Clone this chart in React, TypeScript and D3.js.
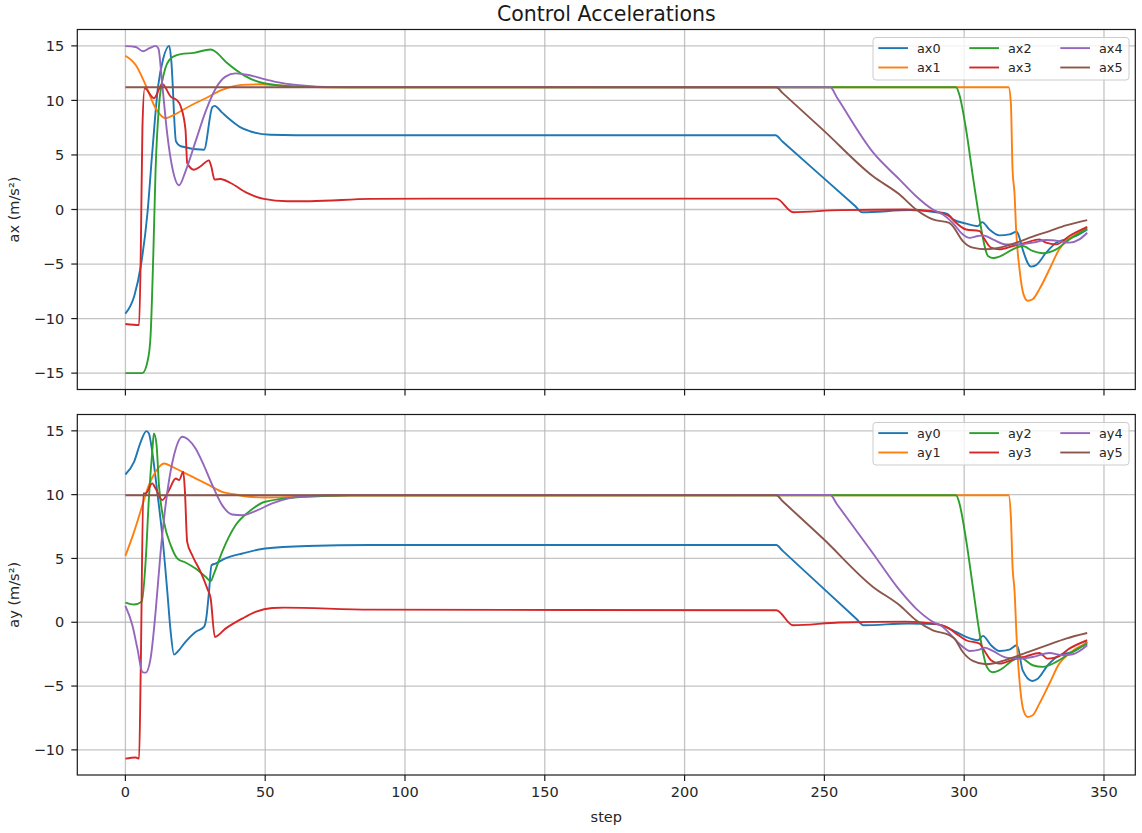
import { useEffect, useRef } from 'react';
import * as d3 from 'd3';

type Pt = [number, number];

// keypoints: [step, value]
const ax0: Pt[] = [[0, -9.55], [3.2, -7.9], [5.5, -5.2], [7.9, -0.3], [9.6, 5.2], [11.7, 11.3], [13.5, 13.8], [15.7, 15.0], [16.4, 13.7], [18.1, 6.24], [19.8, 5.8], [28.1, 5.48], [31.1, 9.38], [31.9, 9.5], [34.5, 8.9], [37.6, 8.2], [41, 7.55], [44.8, 7.15], [51.9, 6.85], [70, 6.8], [232.5, 6.8], [235, 6.23], [261, 0.32], [263.5, -0.25], [280.7, -0.06], [290, -0.25], [294, -0.4], [296, -0.91], [300.7, -1.29], [304.9, -1.52], [306.4, -1.16], [309, -1.83], [312.6, -2.37], [316.2, -2.28], [318.8, -2.04], [319.4, -2.3], [320.9, -3.65], [323.9, -5.24], [325.7, -5.1], [329.3, -3.96], [332.9, -3.05], [336.4, -2.74], [340, -2.43], [344, -1.83]];
const ax1: Pt[] = [[0, 14.1], [3.7, 13.24], [7.25, 11.4], [10.8, 9.28], [14.4, 8.37], [17.4, 8.68], [22.7, 9.44], [28.7, 10.2], [34.6, 10.96], [41.8, 11.42], [48.9, 11.48], [53.7, 11.4], [62, 11.28], [80, 11.2], [315.9, 11.2], [316.7, 9.74], [317.3, 3.65], [318.0, 1.5], [318.6, -2.0], [319.8, -5.48], [321.2, -7.76], [322.7, -8.37], [324.5, -8.22], [326.9, -7.3], [330.5, -5.48], [334, -3.65], [336.4, -2.89], [340, -2.28], [344, -1.67]];
const ax2: Pt[] = [[0, -15], [6.07, -15], [8.1, -13.7], [9.0, -11.6], [10.0, -4.0], [10.8, 3.65], [12.0, 9.44], [13.8, 12.48], [16.2, 13.85], [19.8, 14.24], [24.5, 14.36], [30.5, 14.67], [31.7, 14.55], [36.5, 13.4], [42.4, 12.3], [49.6, 11.57], [61.5, 11.26], [80, 11.2], [297.1, 11.2], [298.3, 10.5], [300.7, 7.3], [303.1, 3.04], [305.5, -0.9], [307.3, -3.35], [308.5, -4.26], [310.5, -4.45], [312.6, -4.32], [317.4, -3.65], [320.9, -3.35], [324.5, -3.8], [328.1, -4.01], [332.9, -3.65], [337.6, -2.74], [344, -1.77]];
const ax3: Pt[] = [[0, -10.5], [4.9, -10.6], [5.5, -4.0], [6.1, 7.6], [6.9, 11.1], [10.2, 10.2], [13.2, 11.5], [16.2, 10.35], [18.3, 10.05], [19.8, 9.44], [21.5, 7.3], [22.1, 4.26], [24.5, 3.65], [26.9, 3.96], [29.9, 4.5], [30.7, 3.96], [31.9, 2.74], [34, 2.8], [37.6, 2.43], [43.5, 1.52], [49.5, 0.97], [57.8, 0.76], [66.1, 0.76], [87.5, 0.97], [110, 1.0], [232.8, 1.0], [238.8, -0.25], [255.4, -0.06], [279.2, 0], [288.8, -0.15], [294.7, -0.61], [296.5, -1.07], [300.7, -1.83], [305.5, -1.98], [307.3, -2.74], [309.6, -3.5], [312.6, -3.65], [317.4, -3.35], [322.1, -3.04], [326.9, -2.74], [329.3, -3.04], [332.9, -3.2], [337.6, -2.43], [344, -1.6]];
const ax4: Pt[] = [[0, 14.98], [3.7, 14.9], [6.3, 14.5], [8.4, 14.76], [10.8, 15.0], [11.8, 14.76], [13.2, 11.4], [15.0, 6.85], [16.8, 3.8], [19.2, 2.22], [21.5, 3.5], [25.1, 6.24], [28.7, 9.0], [32.3, 11.1], [35.8, 12.18], [39.4, 12.48], [44.1, 12.33], [48.9, 12.0], [53.7, 11.7], [62, 11.4], [75, 11.22], [252.1, 11.2], [254.5, 10.26], [267.4, 5.23], [276.9, 2.74], [282.8, 1.22], [288.8, 0], [292.4, -0.46], [295.9, -1.22], [299.5, -2.28], [301.9, -2.6], [304.9, -2.43], [306.7, -2.37], [310.2, -2.74], [315, -3.2], [319.7, -3.2], [324.5, -3.04], [329.3, -2.8], [334, -2.9], [337.6, -3.04], [341.2, -2.74], [344, -2.13]];
const ax5: Pt[] = [[0, 11.2], [232.8, 11.2], [235, 10.69], [249.5, 7.3], [267.4, 3.04], [276.9, 1.37], [282.8, 0], [288.8, -0.91], [294.7, -1.22], [295.9, -1.52], [299.5, -2.89], [303.1, -3.5], [307.8, -3.65], [312.6, -3.5], [318.6, -3.04], [324.5, -2.49], [330.5, -1.98], [336.4, -1.46], [344, -0.97]];

const ay0: Pt[] = [[0, 11.58], [3.1, 12.57], [5.5, 14.14], [7.5, 14.98], [8.4, 14.8], [9.6, 13.36], [11.4, 10.2], [13.2, 6.8], [15.0, 2.38], [16.2, -0.76], [17.4, -2.54], [18.6, -2.33], [21.5, -1.54], [25.1, -0.76], [28.1, -0.37], [28.9, 0.29], [29.9, 2.38], [30.8, 4.47], [32.2, 4.6], [35.8, 5.0], [41.8, 5.39], [50, 5.78], [65, 5.98], [87.6, 6.05], [232.8, 6.05], [235, 5.61], [261.5, 0.26], [264, -0.24], [280, -0.1], [290, -0.15], [294.7, -0.5], [297.1, -0.76], [300.7, -1.15], [304.9, -1.41], [306.7, -1.07], [309.6, -1.8], [312.6, -2.25], [316.2, -2.14], [318.8, -1.8], [319.4, -2.1], [320.9, -3.76], [324.3, -4.6], [326.3, -4.42], [329.9, -3.37], [334, -2.59], [338.8, -2.33], [344, -1.54]];
const ay1: Pt[] = [[0, 5.2], [3.1, 7.08], [6.1, 9.18], [8.4, 10.75], [10.8, 11.79], [13.8, 12.44], [16.8, 12.18], [20.4, 11.79], [25.1, 11.27], [29.9, 10.75], [34.6, 10.22], [39.4, 10.01], [44.1, 9.83], [50, 9.78], [60, 9.82], [80, 9.93], [315.9, 9.95], [316.7, 8.26], [317.3, 4.34], [318.0, 2.5], [318.8, -1.41], [320, -5.1], [321.2, -6.9], [322.7, -7.42], [324.5, -7.29], [326.9, -6.38], [330.5, -4.8], [334, -3.24], [336.4, -2.67], [340, -2.07], [344, -1.62]];
const ay2: Pt[] = [[0, 1.54], [3.1, 1.39], [5.8, 1.6], [7.3, 4.99], [8.4, 9.7], [9.6, 13.36], [10.2, 14.8], [11.1, 14.0], [12.0, 10.75], [13.8, 7.87], [16.2, 6.04], [18.6, 4.99], [21.5, 4.68], [25.1, 4.21], [28.7, 3.56], [30.5, 3.22], [31.7, 3.82], [34.6, 5.52], [39.4, 7.6], [44.1, 8.65], [50, 9.44], [63.8, 9.83], [80, 9.95], [297.1, 9.95], [298.3, 9.31], [300.7, 6.43], [303.1, 2.77], [305.5, -0.86], [308.1, -3.5], [310.2, -3.92], [312.6, -3.76], [317.4, -2.98], [319.7, -2.72], [324.5, -3.37], [328.1, -3.5], [332.9, -3.11], [337.6, -2.46], [344, -1.67]];
const ay3: Pt[] = [[0, -10.69], [3.7, -10.6], [4.9, -10.69], [5.5, -3.5], [6.4, 10.1], [7.25, 10.1], [9.6, 10.88], [10.8, 10.48], [13.2, 9.57], [15.6, 10.35], [18.0, 11.27], [19.2, 11.14], [20.7, 11.79], [21.3, 10.22], [22.1, 6.3], [23.9, 5.25], [26.9, 3.95], [29.3, 2.64], [30.5, 1.86], [32.0, -1.15], [35.8, -0.5], [41.8, 0.29], [46.5, 0.81], [52.5, 1.12], [56.7, 1.15], [87.6, 0.99], [232.8, 0.94], [238.8, -0.24], [255.4, -0.02], [279.2, 0.05], [288.8, -0.1], [294.7, -0.5], [297.1, -0.89], [300.7, -1.41], [305.5, -1.67], [307.5, -2.33], [309.6, -2.98], [312.6, -3.24], [317.4, -2.93], [322.1, -2.67], [326.9, -2.41], [329.9, -2.85], [333.4, -2.72], [337.6, -2.07], [344, -1.41]];
const ay4: Pt[] = [[0, 1.28], [2.5, -0.24], [4.3, -2.07], [6.1, -3.9], [7.25, -3.95], [9.0, -2.85], [10.8, 0.81], [12.6, 5.52], [15.0, 10.22], [17.4, 13.1], [20.4, 14.54], [22.7, 14.27], [25.1, 13.62], [27.5, 12.57], [31.1, 10.75], [34.6, 9.18], [38.2, 8.44], [41.8, 8.39], [46.5, 8.71], [52.5, 9.31], [63.8, 9.88], [80, 9.97], [252.1, 9.97], [254.5, 9.25], [267.4, 5.39], [276.9, 2.51], [282.8, 1.07], [288.8, 0.03], [292.4, -0.37], [295.9, -1.15], [299.5, -1.93], [301.9, -2.25], [305.5, -2.14], [307.3, -1.99], [310.2, -2.25], [315, -2.77], [319.7, -2.85], [324.5, -2.72], [330.5, -2.41], [335.2, -2.59], [338.8, -2.51], [344, -1.8]];
const ay5: Pt[] = [[0, 9.95], [232.8, 9.95], [235, 9.5], [249.5, 6.56], [267.4, 2.77], [276.9, 1.33], [282.8, 0.16], [288.8, -0.63], [294.7, -1.02], [296.5, -1.28], [299.5, -2.33], [303.1, -3.03], [307.8, -3.29], [312.6, -3.11], [318.6, -2.67], [324.5, -2.2], [330.5, -1.73], [336.4, -1.28], [344, -0.84]];

const xTicks = [0, 50, 100, 150, 200, 250, 300, 350];
const axTicks = [-15, -10, -5, 0, 5, 10, 15];
const ayTicks = [-10, -5, 0, 5, 10, 15];
const colors = ['#1f77b4', '#ff7f0e', '#2ca02c', '#d62728', '#9467bd', '#8c564b'];

const W = 1142;
const H = 833;
const FONT = '"DejaVu Sans", sans-serif';

interface Panel {
  top: number;
  height: number;
  yDomain: [number, number];
  yTicks: number[];
  ylabel: string;
  names: string[];
  series: Pt[][];
  xLabels: boolean;
}

const panels: Panel[] = [
  { top: 29.5, height: 360, yDomain: [-16.5, 16.5], yTicks: axTicks, ylabel: 'ax (m/s²)', names: ['ax0', 'ax1', 'ax2', 'ax3', 'ax4', 'ax5'], series: [ax0, ax1, ax2, ax3, ax4, ax5], xLabels: false },
  { top: 414.5, height: 360.5, yDomain: [-11.97, 16.28], yTicks: ayTicks, ylabel: 'ay (m/s²)', names: ['ay0', 'ay1', 'ay2', 'ay3', 'ay4', 'ay5'], series: [ay0, ay1, ay2, ay3, ay4, ay5], xLabels: true },
];

export default function App() {
  const svgRef = useRef<SVGSVGElement>(null);

  useEffect(() => {
    if (!svgRef.current) return;
    const svg = d3.select(svgRef.current);
    svg.selectAll('*').remove();

    const left = 77.3;
    const right = 1135.3;
    const x = d3.scaleLinear().domain([-17.2, 361.2]).range([left, right]);

    svg.append('rect').attr('width', W).attr('height', H).attr('fill', '#fff');

    svg.append('text')
      .attr('x', (left + right) / 2)
      .attr('y', 20.5)
      .attr('text-anchor', 'middle')
      .style('font-family', FONT)
      .style('font-size', '20.5px')
      .style('fill', '#1a1a1a')
      .text('Control Accelerations');

    panels.forEach((p) => {
      const y = d3.scaleLinear().domain(p.yDomain).range([p.top + p.height, p.top]);
      const g = svg.append('g');
      const bottom = p.top + p.height;

      // grid
      g.selectAll('.vgrid').data(xTicks).enter().append('line')
        .attr('x1', (d) => x(d)).attr('x2', (d) => x(d))
        .attr('y1', p.top).attr('y2', bottom)
        .attr('stroke', '#b0b0b0').attr('stroke-opacity', 0.75).attr('stroke-width', 1.3);
      g.selectAll('.hgrid').data(p.yTicks).enter().append('line')
        .attr('x1', left).attr('x2', right)
        .attr('y1', (d) => y(d)).attr('y2', (d) => y(d))
        .attr('stroke', '#b0b0b0').attr('stroke-opacity', 0.75).attr('stroke-width', 1.3);

      const clipId = `clip-${p.names[0]}`;
      svg.append('clipPath').attr('id', clipId).append('rect')
        .attr('x', left).attr('y', p.top).attr('width', right - left).attr('height', p.height);

      const line = d3.line<Pt>()
        .x((d) => x(d[0]))
        .y((d) => y(d[1]))
        .curve(d3.curveMonotoneX);

      g.append('g').attr('clip-path', `url(#${clipId})`)
        .selectAll('path').data(p.series).enter().append('path')
        .attr('d', (d) => line(d))
        .attr('fill', 'none')
        .attr('stroke', (_d, i) => colors[i])
        .attr('stroke-width', 1.9)
        .attr('stroke-linejoin', 'round');

      // spines
      g.append('rect')
        .attr('x', left).attr('y', p.top).attr('width', right - left).attr('height', p.height)
        .attr('fill', 'none').attr('stroke', '#1a1a1a').attr('stroke-width', 1.2);

      // x ticks
      g.selectAll('.xt').data(xTicks).enter().append('line')
        .attr('x1', (d) => x(d)).attr('x2', (d) => x(d))
        .attr('y1', bottom).attr('y2', bottom + 6)
        .attr('stroke', '#1a1a1a').attr('stroke-width', 1.2);
      if (p.xLabels) {
        g.selectAll('.xl').data(xTicks).enter().append('text')
          .attr('x', (d) => x(d)).attr('y', bottom + 22)
          .attr('text-anchor', 'middle')
          .style('font-family', FONT).style('font-size', '14.5px').style('fill', '#262626')
          .text((d) => d3.format('d')(d));
      }

      // y ticks
      g.selectAll('.yt').data(p.yTicks).enter().append('line')
        .attr('x1', left - 6).attr('x2', left)
        .attr('y1', (d) => y(d)).attr('y2', (d) => y(d))
        .attr('stroke', '#1a1a1a').attr('stroke-width', 1.2);
      g.selectAll('.yl').data(p.yTicks).enter().append('text')
        .attr('x', left - 13).attr('y', (d) => y(d))
        .attr('dy', '0.36em')
        .attr('text-anchor', 'end')
        .style('font-family', FONT).style('font-size', '14.5px').style('fill', '#262626')
        .text((d) => (d < 0 ? '\u2212' + Math.abs(d) : String(d)));

      g.append('text')
        .attr('transform', `translate(19,${p.top + p.height / 2}) rotate(-90)`)
        .attr('text-anchor', 'middle')
        .style('font-family', FONT).style('font-size', '14.5px').style('fill', '#262626')
        .text(p.ylabel);

      // legend
      const lg = g.append('g').attr('transform', `translate(873,${p.top + 8})`);
      lg.append('rect')
        .attr('width', 256).attr('height', 42.5).attr('rx', 3)
        .attr('fill', '#fff').attr('fill-opacity', 0.8)
        .attr('stroke', '#cccccc').attr('stroke-width', 1);
      p.names.forEach((name, i) => {
        const col = Math.floor(i / 2);
        const row = i % 2;
        const cx = 5.3 + col * 91;
        const cy = 10.6 + row * 19.4;
        lg.append('line')
          .attr('x1', cx).attr('x2', cx + 29.7)
          .attr('y1', cy).attr('y2', cy)
          .attr('stroke', colors[i]).attr('stroke-width', 1.9);
        lg.append('text')
          .attr('x', cx + 38.7).attr('y', cy).attr('dy', '0.36em')
          .style('font-family', FONT).style('font-size', '12.8px').style('fill', '#262626')
          .text(name);
      });
    });

    svg.append('text')
      .attr('x', (left + right) / 2)
      .attr('y', 822)
      .attr('text-anchor', 'middle')
      .style('font-family', FONT).style('font-size', '14.5px').style('fill', '#262626')
      .text('step');
  }, []);

  return (
    <svg ref={svgRef} width={W} height={H} style={{ position: 'absolute', left: 0, top: 0 }} />
  );
}
